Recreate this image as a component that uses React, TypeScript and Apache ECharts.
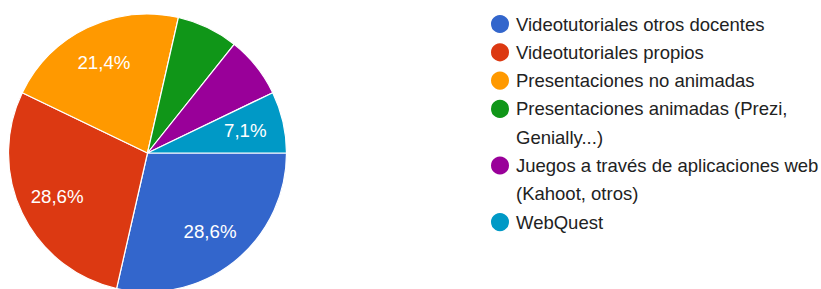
import React, { useEffect, useRef } from "react";
import * as echarts from "echarts";

const categories = [
  "Videotutoriales otros docentes",
  "Videotutoriales propios",
  "Presentaciones no animadas",
  "Presentaciones animadas (Prezi,\nGenially...)",
  "Juegos a través de aplicaciones web\n(Kahoot, otros)",
  "WebQuest",
];
const values = [4, 4, 3, 1, 1, 1];
const colors = ["#3366cc", "#dc3912", "#ff9900", "#109618", "#990099", "#0099c6"];
const showPercent = [true, true, true, false, false, true];

const FONT = "Arial, 'Liberation Sans', sans-serif";

export default function App() {
  const ref = useRef<HTMLDivElement>(null);
  useEffect(() => {
    if (!ref.current) return;
    const chart = echarts.init(ref.current, undefined, { renderer: "svg" });
    const cx = 147.5;
    const cy = 153;
    const r = 139;
    const L = 28.3;
    const y0 = 24;

    let lineIdx = 0;
    const legends = categories.map((name, i) => {
      const lines = name.split("\n").length;
      const yc = y0 + lineIdx * L;
      lineIdx += lines;
      const text = lines > 1 ? " \n" + name : name;
      const h = lines > 1 ? L * (lines + 1) : L;
      return {
        show: true,
        orient: "vertical",
        left: 489,
        top: yc - h / 2,
        padding: 0,
        data: [{ name, icon: "circle" }],
        itemWidth: 22,
        itemHeight: 20,
        selectedMode: false,
        formatter: () => text,
        textStyle: {
          fontFamily: FONT,
          fontSize: 18.5,
          color: "#222222",
          lineHeight: L,
        },
      };
    });

    const data = categories.map((name, i) => ({
      name,
      value: values[i],
      itemStyle: { color: colors[i] },
    }));

    chart.setOption({
      animation: false,
      legend: legends,
      series: [
        {
          type: "pie",
          center: [cx, cy],
          radius: [0, r],
          startAngle: 0,
          clockwise: true,
          label: { show: false },
          labelLine: { show: false },
          itemStyle: { borderColor: "#ffffff", borderWidth: 1.2 },
          emphasis: { disabled: true },
          data,
        },
        {
          type: "pie",
          center: [cx, cy],
          radius: [r * 0.4, r],
          startAngle: 0,
          clockwise: true,
          silent: true,
          percentPrecision: 1,
          legendHoverLink: false,
          itemStyle: { color: "rgba(0,0,0,0)" },
          labelLine: { show: false },
          emphasis: { disabled: true },
          label: {
            show: true,
            position: "inside",
            color: "#ffffff",
            fontFamily: FONT,
            fontSize: 18.7,
            formatter: (p: any) =>
              showPercent[p.dataIndex] ? p.percent.toFixed(1).replace(".", ",") + "%" : "",
          },
          data: categories.map((name, i) => ({
            name: name + " ",
            value: values[i],
          })),
        },
      ],
    });
    return () => chart.dispose();
  }, []);
  return (
    <div
      ref={ref}
      style={{ position: "absolute", left: 0, top: 0, width: 821, height: 289, background: "#fff" }}
    />
  );
}
